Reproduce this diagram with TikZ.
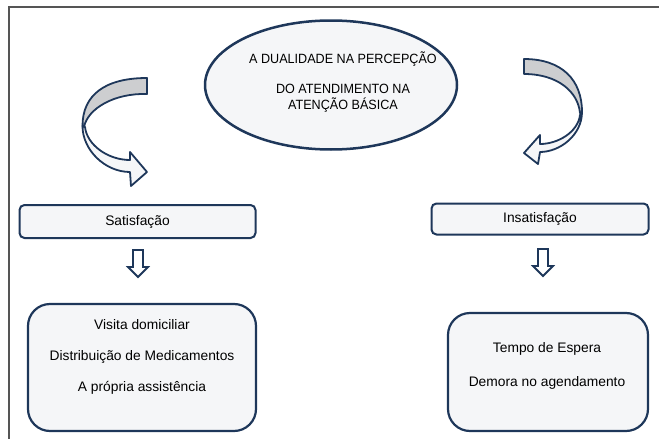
\documentclass[tikz,border=0pt]{standalone}
\usepackage{fontspec}
\usetikzlibrary{shapes.geometric}
\setmainfont{Liberation Sans}
\newfontfamily\condfont[FakeStretch=0.94]{Liberation Sans}
\definecolor{navy}{RGB}{30,55,90}
\definecolor{boxfill}{RGB}{245,246,248}
\definecolor{bandgray}{RGB}{205,206,208}
\definecolor{framegray}{RGB}{85,85,85}
\tikzset{
  txt/.style={font=\fontsize{13.8}{16}\selectfont, text=black, inner sep=0pt},
  pill/.style={draw=navy, fill=boxfill, line width=2pt, rounded corners=5pt},
  bigbox/.style={draw=navy, fill=boxfill, line width=2.2pt, rounded corners=22pt},
  band/.style={draw=navy, line width=1.8pt, line join=round},
  blockarrow/.style={draw=navy, fill=white, line width=1.8pt, line join=miter},
}
\begin{document}
\begin{tikzpicture}[x=1pt,y=-1pt]
\useasboundingbox (0,0) rectangle (659,439);
% frame
\draw[framegray, line width=1.3pt] (9,439) -- (9,7) -- (659,7);

% central ellipse
\node[draw=navy, fill=boxfill, line width=2.5pt, ellipse, minimum width=252pt, minimum height=129pt, inner sep=0pt] (top) at (331,85) {};
\node[inner sep=0pt, align=center, font=\condfont\fontsize{13.4}{16}\selectfont] (toptxt) at (343,82) {A DUALIDADE NA PERCEPÇÃO\\[14pt]DO ATENDIMENTO NA\\ATENÇÃO BÁSICA};

% left curved arrow
\filldraw[band, fill=bandgray] (147,78) .. controls (105,78) and (82.5,95) .. (82.5,126)
   -- (84,127) .. controls (88,108) and (115,93) .. (147,94) -- cycle;
\filldraw[band, fill=boxfill] (82.5,126) .. controls (82.5,150) and (105,172) .. (130,172)
   -- (131,186) -- (147,172) -- (130,152) -- (130,160)
   .. controls (108,160) and (87,145) .. (85,127) -- cycle;

% right curved arrow
\filldraw[band, fill=bandgray] (524,59) .. controls (562,59) and (582,80) .. (582,112)
   -- (580,113) .. controls (578,92) and (558,74) .. (524,74) -- cycle;
\filldraw[band, fill=boxfill] (582,112) .. controls (582,135) and (560,152) .. (540,152)
   -- (538,164) -- (524,153) -- (540,135) -- (540,144)
   .. controls (558,144) and (578,132) .. (580,115) -- cycle;

% level boxes
\node[pill, minimum width=236pt, minimum height=33pt, txt] (sat) at (137.5,221.5) {Satisfação};
\node[pill, minimum width=217pt, minimum height=31pt, txt] (insat) at (540,219) {Insatisfação};

% down block arrows
\coordinate (la) at (138,250);
\coordinate (ra) at (543,249);
\filldraw[blockarrow] (la) ++(-5,0) -- ++(10,0) -- ++(0,17) -- ++(5,0) -- ++(-10,10) -- ++(-10,-10) -- ++(5,0) -- cycle;
\filldraw[blockarrow] (ra) ++(-5,0) -- ++(10,0) -- ++(0,17) -- ++(5,0) -- ++(-10,10) -- ++(-10,-10) -- ++(5,0) -- cycle;

% lower boxes
\node[bigbox, minimum width=228pt, minimum height=127pt] (left) at (142,367.5) {};
\node[txt, align=center, font=\fontsize{13.8}{31}\selectfont] (lefttxt) at (142,357)
  {Visita domiciliar\\Distribuição de Medicamentos\\A própria assistência};
\node[bigbox, minimum width=200pt, minimum height=118pt] (right) at (548,372) {};
\node[txt, align=center, font=\fontsize{13.8}{34}\selectfont] (righttxt) at (547,366)
  {Tempo de Espera\\Demora no agendamento};
\end{tikzpicture}
\end{document}
